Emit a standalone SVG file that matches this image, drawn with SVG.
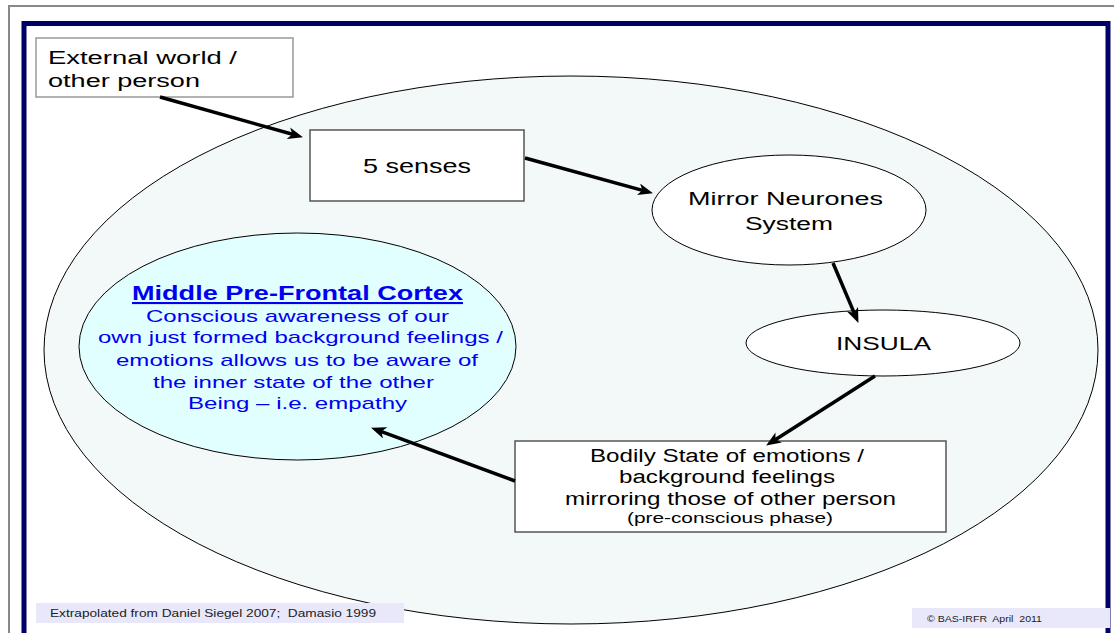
<svg xmlns="http://www.w3.org/2000/svg" width="1114" height="633" viewBox="0 0 1114 633">
<style>
  text { font-family: "Liberation Sans", Arial, sans-serif; white-space: pre; }
  .blk { fill: #000; }
  .blue { fill: #0000F0; }
  .node-ell { fill: #FFFFFF; stroke: #000; stroke-width: 1; }
  .node-box { fill: #FFFFFF; stroke: #555; stroke-width: 1.5; }
  .conn { stroke: #000; stroke-width: 3.5; fill: none; marker-end: url(#ah); }
  .foot { fill: #E8E8FA; }
</style>
<defs>
  <marker id="ah" markerUnits="userSpaceOnUse" markerWidth="16" markerHeight="12" refX="6" refY="6" orient="auto">
    <path d="M0,0 L15,6 L0,12 L4,6 z" fill="#000"/>
  </marker>
</defs>
<rect width="1114" height="633" fill="#FFFFFF"/>
<rect id="outer-border" x="9" y="6" width="1112" height="700" fill="none" stroke="#888" stroke-width="2"/>
<rect id="frame" x="24" y="23.5" width="1084" height="700" fill="#FFFFFF" stroke="#000066" stroke-width="5"/>

<g id="brain">
  <ellipse cx="571" cy="350" rx="527" ry="274" fill="#F3F9F9" stroke="#000" stroke-width="1"/>
</g>

<g id="external">
  <rect x="36" y="38" width="257" height="59" fill="#FFFFFF" stroke="#999" stroke-width="1.5"/>
  <text x="48" y="64" font-size="18" class="blk" textLength="189" lengthAdjust="spacingAndGlyphs">External world /</text>
  <text x="48" y="87" font-size="18" class="blk" textLength="152" lengthAdjust="spacingAndGlyphs">other person</text>
</g>

<g id="senses">
  <rect x="310" y="130" width="214" height="71" class="node-box"/>
  <text x="363" y="173" font-size="21" class="blk" textLength="108" lengthAdjust="spacingAndGlyphs">5 senses</text>
</g>

<g id="mirror">
  <ellipse cx="789" cy="210" rx="137" ry="55" class="node-ell"/>
  <text x="688" y="205" font-size="18" class="blk" textLength="195" lengthAdjust="spacingAndGlyphs">Mirror Neurones</text>
  <text x="745" y="230" font-size="18" class="blk" textLength="88" lengthAdjust="spacingAndGlyphs">System</text>
</g>

<g id="insula">
  <ellipse cx="883" cy="343" rx="137" ry="33" class="node-ell"/>
  <text x="836" y="350" font-size="19" class="blk" textLength="95" lengthAdjust="spacingAndGlyphs">INSULA</text>
</g>

<g id="bodily">
  <rect x="515" y="441" width="431" height="91" class="node-box"/>
  <text x="590" y="462" font-size="18" class="blk" textLength="274" lengthAdjust="spacingAndGlyphs">Bodily State of emotions /</text>
  <text x="619" y="483" font-size="18" class="blk" textLength="216" lengthAdjust="spacingAndGlyphs">background feelings</text>
  <text x="565" y="505" font-size="18" class="blk" textLength="331" lengthAdjust="spacingAndGlyphs">mirroring those of other person</text>
  <text x="627" y="523" font-size="14" class="blk" textLength="206" lengthAdjust="spacingAndGlyphs">(pre-conscious phase)</text>
</g>

<g id="mpfc">
  <ellipse cx="297.5" cy="346.5" rx="218.5" ry="113.5" fill="#E2FFFF" stroke="#000" stroke-width="1"/>
  <text x="132" y="300" font-size="21" font-weight="bold" class="blue" text-decoration="underline" textLength="331" lengthAdjust="spacingAndGlyphs">Middle Pre-Frontal Cortex</text>
  <text x="146" y="322" font-size="17" class="blue" textLength="303" lengthAdjust="spacingAndGlyphs">Conscious awareness of our</text>
  <text x="98" y="343" font-size="17" class="blue" textLength="405" lengthAdjust="spacingAndGlyphs">own just formed background feelings /</text>
  <text x="116" y="366" font-size="17" class="blue" textLength="362" lengthAdjust="spacingAndGlyphs">emotions allows us to be aware of</text>
  <text x="153" y="388" font-size="17" class="blue" textLength="281" lengthAdjust="spacingAndGlyphs">the inner state of the other</text>
  <text x="188" y="409" font-size="17" class="blue" textLength="219" lengthAdjust="spacingAndGlyphs">Being – i.e. empathy</text>
</g>

<g id="connectors">
  <line x1="160" y1="97" x2="294.3" y2="134.8" class="conn"/>
  <line x1="525" y1="158" x2="644.3" y2="190.9" class="conn"/>
  <line x1="833" y1="263" x2="854.9" y2="314.6" class="conn"/>
  <line x1="875" y1="376" x2="773.7" y2="440.7" class="conn"/>
  <line x1="515" y1="481" x2="379.5" y2="430.8" class="conn"/>
</g>

<g id="footer-left">
  <rect x="36" y="603" width="368" height="20" class="foot"/>
  <text x="50" y="617" font-size="11" fill="#222" textLength="326" lengthAdjust="spacingAndGlyphs">Extrapolated from Daniel Siegel 2007;  Damasio 1999</text>
</g>
<g id="footer-right">
  <rect x="912" y="608" width="198" height="20" class="foot"/>
  <text x="927" y="622" font-size="9" fill="#222" textLength="115" lengthAdjust="spacingAndGlyphs">© BAS-IRFR  April  2011</text>
</g>
</svg>
